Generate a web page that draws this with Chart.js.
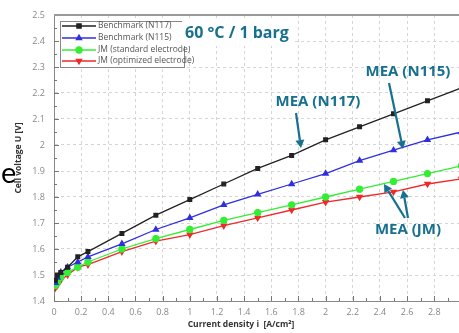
<!DOCTYPE html>
<html>
<head>
<meta charset="utf-8">
<script src="https://cdn.jsdelivr.net/npm/chart.js@4.4.1/dist/chart.umd.min.js"></script>
<style>
  html, body { margin: 0; padding: 0; background: #fff; overflow: hidden; }
  #wrap { position: relative; width: 459px; height: 333px; overflow: hidden; }
  #chart { position: absolute; left: 0; top: 0; }
</style>
</head>
<body>
<div id="wrap">
  <canvas id="chart" width="470" height="333"></canvas>
</div>
<script>
// Polarisation curves
const currentDensity = [0.01, 0.025, 0.05, 0.1, 0.175, 0.25, 0.5, 0.75, 1.0, 1.25, 1.5, 1.75, 2.0, 2.25, 2.5, 2.75, 3.0];
const benchN117 = [1.48, 1.50, 1.51, 1.53, 1.57, 1.59, 1.66, 1.73, 1.79, 1.85, 1.91, 1.96, 2.02, 2.07, 2.12, 2.17, 2.22];
const benchN115 = [1.47, 1.49, 1.51, 1.53, 1.55, 1.57, 1.62, 1.675, 1.72, 1.77, 1.81, 1.85, 1.89, 1.94, 1.98, 2.02, 2.05];
const jmStandard = [1.46, 1.47, 1.49, 1.51, 1.53, 1.55, 1.60, 1.64, 1.675, 1.71, 1.74, 1.77, 1.80, 1.83, 1.86, 1.89, 1.92];
const jmOptimized = [1.45, 1.46, 1.48, 1.50, 1.53, 1.54, 1.59, 1.63, 1.655, 1.69, 1.72, 1.75, 1.78, 1.80, 1.82, 1.85, 1.87];

const seriesLabels = ['Benchmark (N117)', 'Benchmark (N115)', 'JM (standard electrode)', 'JM (optimized electrode)'];
const seriesColors = ['#222222', '#2f2fe0', '#33ee33', '#ee2a2a'];
const xTicks = [0, 0.2, 0.4, 0.6, 0.8, 1, 1.2, 1.4, 1.6, 1.8, 2, 2.2, 2.4, 2.6, 2.8, 3];
const yTicks = [1.4, 1.5, 1.6, 1.7, 1.8, 1.9, 2, 2.1, 2.2, 2.3, 2.4, 2.5];

const teal = '#17708f';

function pts(vals) {
    return currentDensity.map(function (x, i) { return { x: x, y: vals[i] }; });
}

function makeSet(i, vals, style, rot) {
    return {
        label: seriesLabels[i],
        data: pts(vals),
        borderColor: seriesColors[i],
        backgroundColor: seriesColors[i],
        borderWidth: 1.3,
        pointStyle: style,
        pointRotation: rot || 0,
        pointRadius: style === 'rect' ? 2.6 : 3,
        showLine: true,
        tension: 0
    };
}

// legend, annotations, arrows, inner ticks
const decorations = {
    id: 'decorations',
    beforeDatasetsDraw: function (chart) {
        const ctx = chart.ctx;
        const a = chart.chartArea;
        const xs = chart.scales.x, ys = chart.scales.y;
        ctx.save();
        ctx.strokeStyle = '#777';
        ctx.lineWidth = 1;
        // minor ticks along x
        for (let v = 0; v <= 3.0001; v += 0.1) {
            const px = Math.round(xs.getPixelForValue(v)) + 0.5;
            const major = Math.abs(v / 0.2 - Math.round(v / 0.2)) < 0.01;
            ctx.beginPath();
            ctx.moveTo(px, a.bottom);
            ctx.lineTo(px, a.bottom - (major ? 5 : 3));
            ctx.stroke();
        }
        for (let v = 1.4; v <= 2.5001; v += 0.05) {
            const py = Math.round(ys.getPixelForValue(v)) + 0.5;
            const major = Math.abs(v / 0.1 - Math.round(v / 0.1)) < 0.01;
            ctx.beginPath();
            ctx.moveTo(a.left, py);
            ctx.lineTo(a.left + (major ? 5 : 3), py);
            ctx.stroke();
        }
        // top frame line
        ctx.strokeStyle = '#999';
        ctx.lineWidth = 2;
        ctx.beginPath();
        ctx.moveTo(a.left, a.top);
        ctx.lineTo(a.right + 10, a.top);
        ctx.stroke();
        ctx.restore();
    },
    afterDraw: function (chart) {
        const ctx = chart.ctx;
        ctx.save();

        // legend box
        ctx.fillStyle = '#fff';
        ctx.fillRect(60, 21, 124, 46);
        ctx.strokeStyle = '#888';
        ctx.lineWidth = 1;
        ctx.strokeRect(60.5, 21.5, 124, 46);
        const rows = [26, 38, 50, 61];
        const styles = ['rect', 'triangle', 'circle', 'triangle'];
        const rots = [0, 0, 0, 180];
        rows.forEach(function (y, i) {
            ctx.strokeStyle = seriesColors[i];
            ctx.lineWidth = 1.3;
            ctx.beginPath();
            ctx.moveTo(62, y);
            ctx.lineTo(96, y);
            ctx.stroke();
            ctx.fillStyle = seriesColors[i];
            ctx.strokeStyle = seriesColors[i];
            Chart.helpers.drawPoint(ctx, { pointStyle: styles[i], radius: 3, rotation: rots[i], borderWidth: 1 }, 79, y);
            ctx.fillStyle = '#555';
            ctx.font = '8.5px "Open Sans", sans-serif';
            ctx.textAlign = 'left';
            ctx.textBaseline = 'middle';
            ctx.fillText(seriesLabels[i], 98, y);
        });

        // condition label
        ctx.fillStyle = '#fff';
        ctx.fillRect(182, 19, 112, 27);
        ctx.fillStyle = teal;
        ctx.font = 'bold 16px "Open Sans", sans-serif';
        ctx.textBaseline = 'middle';
        ctx.textAlign = 'left';
        ctx.fillText('60 °C / 1 barg', 185, 33);

        ctx.font = 'bold 15px "Open Sans", sans-serif';
        ctx.textAlign = 'center';
        ctx.fillText('MEA (N115)', 408, 72);
        ctx.fillText('MEA (N117)', 318, 102);
        ctx.fillText('MEA (JM)', 408, 230);

        // arrows
        function arrow(x1, y1, x2, y2) {
            const ang = Math.atan2(y2 - y1, x2 - x1);
            const hl = 8, hw = 4.5;
            const bx = x2 - hl * Math.cos(ang), by = y2 - hl * Math.sin(ang);
            ctx.strokeStyle = teal;
            ctx.lineWidth = 2.2;
            ctx.beginPath();
            ctx.moveTo(x1, y1);
            ctx.lineTo(bx, by);
            ctx.stroke();
            ctx.fillStyle = teal;
            ctx.beginPath();
            ctx.moveTo(x2, y2);
            ctx.lineTo(bx + hw * Math.sin(ang), by - hw * Math.cos(ang));
            ctx.lineTo(bx - hw * Math.sin(ang), by + hw * Math.cos(ang));
            ctx.closePath();
            ctx.fill();
        }
        arrow(296, 113, 301, 148);
        arrow(389, 83, 403, 149);
        arrow(405, 218, 384, 184);
        arrow(408, 218, 403, 190);

        // cut-off slide text on the left
        ctx.fillStyle = '#000';
        ctx.font = '29px Lato, sans-serif';
        ctx.textAlign = 'left';
        ctx.textBaseline = 'alphabetic';
        ctx.fillText('e', 1, 183);

        // axis titles
        ctx.fillStyle = '#333';
        ctx.font = 'bold 8.5px "Open Sans", sans-serif';
        ctx.textAlign = 'center';
        ctx.textBaseline = 'middle';
        ctx.fillText('Current density i  [A/cm²]', 241, 325);
        ctx.translate(19, 158);
        ctx.rotate(-Math.PI / 2);
        ctx.fillText('Cell voltage U [V]', 0, 0);
        ctx.restore();
    }
};

const ctx = document.getElementById('chart').getContext('2d');
new Chart(ctx, {
    type: 'scatter',
    data: {
        datasets: [
            makeSet(0, benchN117, 'rect'),
            makeSet(1, benchN115, 'triangle'),
            makeSet(2, jmStandard, 'circle'),
            makeSet(3, jmOptimized, 'triangle', 180)
        ]
    },
    options: {
        responsive: false,
        animation: false,
        layout: { padding: { left: 0, top: 15, right: 6, bottom: 0 } },
        plugins: {
            legend: { display: false },
            tooltip: { enabled: false }
        },
        scales: {
            x: {
                type: 'linear',
                min: 0,
                max: 3,
                afterFit: function (s) { s.height = 32; },
                afterBuildTicks: function (s) { s.ticks = xTicks.map(function (v) { return { value: v }; }); },
                ticks: {
                    color: '#888',
                    font: { family: 'Open Sans', size: 9 },
                    padding: 6,
                    maxRotation: 0,
                    callback: function (v) { return Number(v.toFixed(1)).toString(); }
                },
                grid: { color: '#d4d4d4', drawTicks: false },
                border: { color: '#888', dash: [3, 3] }
            },
            y: {
                min: 1.4,
                max: 2.5,
                afterFit: function (s) { s.width = 54; },
                afterBuildTicks: function (s) { s.ticks = yTicks.map(function (v) { return { value: v }; }); },
                ticks: {
                    color: '#888',
                    font: { family: 'Open Sans', size: 9 },
                    padding: 9,
                    callback: function (v) { return Number(v.toFixed(1)).toString(); }
                },
                grid: { color: '#d4d4d4', drawTicks: false },
                border: { color: '#888', dash: [3, 3] }
            }
        }
    },
    plugins: [decorations]
});
</script>
</body>
</html>
